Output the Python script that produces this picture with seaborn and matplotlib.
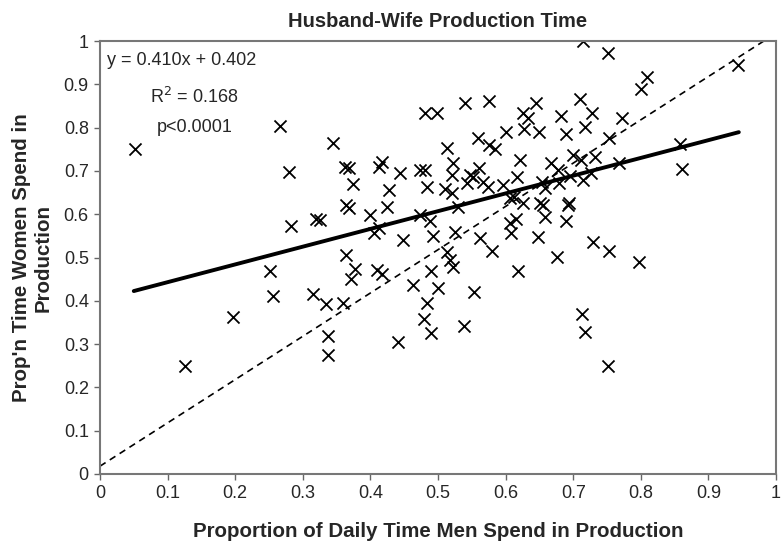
import numpy as np
import pandas as pd
import matplotlib
matplotlib.use("Agg")
import matplotlib.pyplot as plt
import seaborn as sns

# Data
men_prop = [
    0.052, 0.126, 0.197, 0.251, 0.256, 0.266, 0.280, 0.283, 0.315, 0.320,
    0.326, 0.334, 0.337, 0.337, 0.345, 0.359,
    0.362, 0.368, 0.413, 0.417, 0.444, 0.473, 0.481, 0.481, 0.498, 0.540,
    0.575, 0.645, 0.626, 0.633, 0.627, 0.649, 0.600, 0.559, 0.575, 0.584,
    0.513, 0.522, 0.520, 0.561, 0.547, 0.552, 0.567, 0.543, 0.574, 0.596,
    0.621, 0.617, 0.654, 0.374, 0.428, 0.484, 0.510, 0.521, 0.364, 0.368,
    0.425, 0.607, 0.626, 0.651, 0.612,
    0.399, 0.473, 0.488, 0.530, 0.413, 0.405, 0.448, 0.493, 0.525, 0.562,
    0.580, 0.607, 0.615, 0.608, 0.648, 0.364, 0.377, 0.371, 0.410, 0.417,
    0.513, 0.518, 0.522, 0.490, 0.618, 0.463, 0.500, 0.553, 0.484, 0.479,
    0.490, 0.538, 0.441,
    0.714, 0.751, 0.809, 0.800, 0.944, 0.710, 0.682, 0.728, 0.772, 0.717,
    0.689, 0.753, 0.858, 0.861, 0.700, 0.732, 0.711, 0.667, 0.678, 0.768,
    0.727, 0.695, 0.714, 0.679, 0.658, 0.655, 0.694, 0.692, 0.659, 0.689,
    0.729, 0.753, 0.676, 0.797, 0.713, 0.717, 0.751,
]
women_prop = [
    0.751, 0.249, 0.362, 0.469, 0.411, 0.804, 0.697, 0.573, 0.416, 0.589,
    0.586, 0.393, 0.319, 0.275, 0.764, 0.395,
    0.709, 0.706, 0.709, 0.720, 0.695, 0.702, 0.702, 0.834, 0.834, 0.857,
    0.861, 0.857, 0.834, 0.822, 0.797, 0.790, 0.790, 0.776, 0.760, 0.751,
    0.753, 0.718, 0.691, 0.707, 0.691, 0.686, 0.674, 0.672, 0.663, 0.667,
    0.725, 0.686, 0.674, 0.670, 0.656, 0.663, 0.658, 0.649, 0.621, 0.615,
    0.617, 0.637, 0.626, 0.626, 0.640,
    0.598, 0.598, 0.584, 0.617, 0.568, 0.556, 0.540, 0.550, 0.559, 0.545,
    0.515, 0.580, 0.589, 0.556, 0.548, 0.506, 0.473, 0.450, 0.471, 0.462,
    0.513, 0.494, 0.478, 0.469, 0.469, 0.436, 0.429, 0.420, 0.395, 0.358,
    0.325, 0.342, 0.305,
    1.000, 0.972, 0.917, 0.889, 0.945, 0.866, 0.827, 0.834, 0.822, 0.801,
    0.785, 0.776, 0.762, 0.704, 0.737, 0.732, 0.725, 0.718, 0.702, 0.718,
    0.695, 0.688, 0.679, 0.672, 0.660, 0.621, 0.626, 0.622, 0.594, 0.584,
    0.536, 0.515, 0.501, 0.490, 0.369, 0.328, 0.249,
]

# Fitted line as reported on the chart
slope = 0.410
intercept = 0.402
fit_x = [0.05, 0.945]

# Dashed reference line end points
ref_x = [0.0, 0.982]
ref_y = [0.018, 1.0]

ticks = [0, 0.1, 0.2, 0.3, 0.4, 0.5, 0.6, 0.7, 0.8, 0.9, 1]
tick_labels = ["0", "0.1", "0.2", "0.3", "0.4", "0.5", "0.6", "0.7", "0.8", "0.9", "1"]

df = pd.DataFrame({"men": men_prop, "women": women_prop})
fit_df = pd.DataFrame({"x": fit_x, "y": [slope * v + intercept for v in fit_x]})
ref_df = pd.DataFrame({"x": ref_x, "y": ref_y})

sns.set_style("white")
plt.rcParams["font.family"] = ["Liberation Sans", "DejaVu Sans"]

fig = plt.figure(figsize=(7.81, 5.44), dpi=100)
ax = fig.add_axes([0.128, 0.1287, 0.8656, 0.7959])

sns.lineplot(data=ref_df, x="x", y="y", ax=ax, color="black",
             linestyle=(0, (4, 3)), linewidth=1.2)
sns.scatterplot(data=df, x="men", y="women", ax=ax, marker="x",
                color="black", s=75, linewidth=1.3)
sns.lineplot(data=fit_df, x="x", y="y", ax=ax, color="black", linewidth=2.8)

ax.set_xlim(0, 1)
ax.set_ylim(0, 1)
ax.set_xticks(ticks)
ax.set_xticklabels(tick_labels)
ax.set_yticks(ticks)
ax.set_yticklabels(tick_labels)
ax.tick_params(axis="both", which="major", labelsize=13, length=4,
               width=1, color="#666666", direction="out", pad=4,
               bottom=True, left=True)

for side in ["top", "right", "bottom", "left"]:
    ax.spines[side].set_visible(True)
    ax.spines[side].set_color("#777777")
    ax.spines[side].set_linewidth(1.5)

ax.set_xlabel("Proportion of Daily Time Men Spend in Production",
              fontsize=14.8, fontweight="bold", labelpad=14)
ax.set_ylabel("Prop'n Time Women Spend in\nProduction",
              fontsize=14.8, fontweight="bold", labelpad=8)
ax.set_title("Husband-Wife Production Time", fontsize=14.5,
             fontweight="bold", pad=10)

ax.text(0.010, 0.956, "y = 0.410x + 0.402", fontsize=13, va="center", ha="left")
ax.text(0.074, 0.871, "R$^2$ = 0.168", fontsize=13, va="center", ha="left")
ax.text(0.084, 0.801, "p<0.0001", fontsize=13, va="center", ha="left")

fig.savefig("out.png", dpi=100)
